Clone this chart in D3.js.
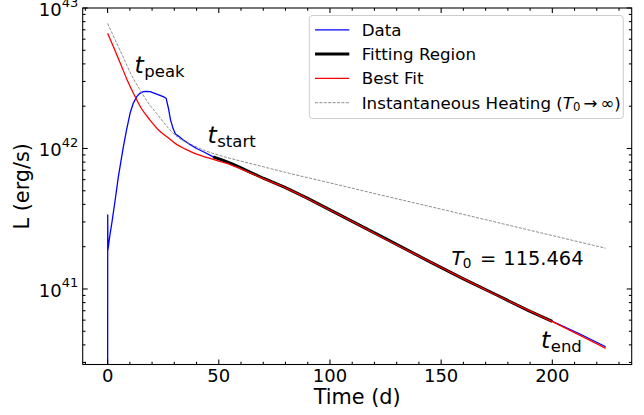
<!DOCTYPE html>
<html>
<head>
<meta charset="utf-8">
<script src="https://cdn.jsdelivr.net/npm/d3@7"></script>
<style>
  html, body { margin: 0; padding: 0; background: #fff; }
  svg { display: block; font-family: "DejaVu Sans", sans-serif; }
</style>
</head>
<body>
<svg id="chart" width="644" height="415"></svg>
<script>
// ---------------- DATA ----------------
// Observed light curve (days, erg/s)
const dataTime = [0, 0.05, 0.15, 1, 2, 3.4, 4.85, 6, 7.1, 8.5, 10.1, 11.5, 13.1, 14.5, 16.1, 17.5, 19.1, 22.1, 25, 26.3, 27.3, 28.3, 29.5, 30.5, 32, 34, 37, 40, 44,
  47.5, 52, 56, 60, 65, 70, 80, 90, 100, 110, 125, 145, 160, 175, 190, 200, 212, 224];
const dataLum = [1e39, 3.37e41, 1.90e41, 2.40e41, 3.02e41, 4.30e41, 6.31e41, 8.13e41, 1.03e42, 1.35e42, 1.78e42, 2.09e42, 2.34e42, 2.47e42, 2.54e42, 2.55e42, 2.54e42, 2.44e42, 2.34e42, 2.28e42, 1.95e42, 1.60e42, 1.38e42, 1.27e42, 1.22e42, 1.15e42, 1.07e42, 1.00e42, 9.33e41,
  8.71e41, 8.22e41, 7.76e41, 7.28e41, 6.68e41, 6.14e41, 5.27e41, 4.42e41, 3.66e41, 3.03e41, 2.28e41, 1.56e41, 1.18e41, 9.06e40, 6.92e40, 5.89e40, 4.82e40, 3.88e40];
// Fitting region limits (days)
const fitStart = 47.5;
const fitEnd = 200;

// Best fit
const fitTime = [0, 3, 6, 9, 12, 15, 19, 23, 27, 31, 35, 40, 45, 50, 56, 62, 70, 80, 90, 100, 110, 125, 145, 160, 175, 200, 224];
const fitLum = [6.61e42, 5.13e42, 3.94e42, 3.02e42, 2.40e42, 1.95e42, 1.60e42, 1.35e42, 1.20e42, 1.07e42, 9.89e41, 9.12e41, 8.61e41, 8.13e41, 7.59e41, 6.92e41, 6.10e41, 5.25e41, 4.39e41, 3.65e41, 3.02e41, 2.26e41, 1.56e41, 1.18e41, 9.02e40, 5.85e40, 3.78e40];

// Instantaneous heating (T0 -> infinity)
const instTime = [0, 3.5, 7, 10.5, 14.5, 18, 22, 26, 30, 34, 38, 44, 52, 60, 67, 80, 100, 125, 150, 175, 200, 224];
const instLum = [7.76e42, 5.89e42, 4.47e42, 3.39e42, 2.63e42, 2.14e42, 1.78e42, 1.48e42, 1.26e42, 1.135e42, 1.06e42, 9.64e41, 8.77e41, 8.13e41, 7.62e41, 6.76e41, 5.69e41, 4.58e41, 3.70e41, 2.98e41, 2.40e41, 1.95e41];

const xTickValues = [0, 50, 100, 150, 200];
const yTickValues = [1e41, 1e42, 1e43];
const yTickExponents = ["41", "42", "43"];
const legendLabels = ["Data", "Fitting Region", "Best Fit", "Instantaneous Heating"];
const T0value = "115.464";

// ---------------- LAYOUT ----------------
const L = 82.7, R = 631.7, T = 8, B = 364.5;
const svg = d3.select("#chart");

const x = d3.scaleLinear().domain([-11.2, 235.7]).range([L, R]);
const y = d3.scaleLog().domain([2.9e40, 1e43]).range([B, T]);

svg.append("defs").append("clipPath").attr("id", "clip")
  .append("rect").attr("x", L).attr("y", T).attr("width", R - L).attr("height", B - T);

const plot = svg.append("g").attr("clip-path", "url(#clip)");

const zip = (ts, ls) => ts.map((t, i) => [t, ls[i]]);
const lineLin = d3.line().x(d => x(d[0])).y(d => y(d[1]));
const lineSmooth = d3.line().x(d => x(d[0])).y(d => y(d[1])).curve(d3.curveMonotoneX);

const dataPts = zip(dataTime, dataLum);
const fitRegionPts = dataPts.filter(d => d[0] >= fitStart && d[0] <= fitEnd);

plot.append("path").attr("d", lineLin(dataPts))
  .attr("fill", "none").attr("stroke", "#0000ff").attr("stroke-width", 1.3).attr("stroke-linejoin", "round");
plot.append("path").attr("d", lineLin(fitRegionPts))
  .attr("fill", "none").attr("stroke", "#000").attr("stroke-width", 3).attr("stroke-linecap", "butt");
plot.append("path").attr("d", lineSmooth(zip(fitTime, fitLum)))
  .attr("fill", "none").attr("stroke", "#ff0000").attr("stroke-width", 1.3);
plot.append("path").attr("d", lineSmooth(zip(instTime, instLum)))
  .attr("fill", "none").attr("stroke", "#808080").attr("stroke-width", 0.9).attr("stroke-dasharray", "3,1.4");

// ---------------- AXES ----------------
const tickW = 1.07;
const xMinor = d3.range(-10, 236, 10).filter(v => v % 50 !== 0);
const yMinor = [];
[1e40, 1e41, 1e42].forEach(p => { for (let k = 2; k <= 9; k++) { const v = k * p; if (v >= 2.9e40 && v <= 1e43) yMinor.push(v); } });

function ticksX(vals, y0, len, dir) {
  svg.append("g").selectAll("line").data(vals).join("line")
    .attr("x1", d => x(d)).attr("x2", d => x(d))
    .attr("y1", y0).attr("y2", y0 + dir * len)
    .attr("stroke", "#000").attr("stroke-width", tickW);
}
function ticksY(vals, x0, len, dir) {
  svg.append("g").selectAll("line").data(vals).join("line")
    .attr("y1", d => y(d)).attr("y2", d => y(d))
    .attr("x1", x0).attr("x2", x0 + dir * len)
    .attr("stroke", "#000").attr("stroke-width", tickW);
}
ticksX(xTickValues, B, 5, -1);
ticksX(xMinor, B, 2.8, -1);
ticksX(xTickValues, T, 5, 1);
ticksX(xMinor, T, 2.8, 1);
ticksY(yTickValues, L, 5, 1);
ticksY(yMinor, L, 2.8, 1);
ticksY(yTickValues, R, 5, -1);
ticksY(yMinor, R, 2.8, -1);

// x tick labels
svg.append("g").selectAll("text").data(xTickValues).join("text")
  .attr("x", d => x(d)).attr("y", 381.5).attr("text-anchor", "middle")
  .attr("font-size", 18).attr("fill", "#000").text(d => d3.format("d")(d));

// y tick labels (10^n)
svg.append("g").selectAll("text").data(yTickValues).join("text")
  .attr("x", L - 4.5).attr("y", d => y(d) + 7.7).attr("text-anchor", "end")
  .attr("font-size", 18).attr("fill", "#000")
  .each(function(d, i) {
    const t = d3.select(this);
    t.append("tspan").text("10");
    t.append("tspan").attr("font-size", 13).attr("dy", -9.2).text(yTickExponents[i]);
  });

// frame
svg.append("rect").attr("x", L).attr("y", T).attr("width", R - L).attr("height", B - T)
  .attr("fill", "none").attr("stroke", "#000").attr("stroke-width", 1.07);

// axis labels
svg.append("text").attr("x", (L + R) / 2).attr("y", 404).attr("text-anchor", "middle")
  .attr("font-size", 20.8).text("Time (d)");
svg.append("text").attr("transform", `translate(29,${(T + B) / 2}) rotate(-90)`).attr("text-anchor", "middle")
  .attr("font-size", 20.8).text("L (erg/s)");

// ---------------- ANNOTATIONS ----------------
function tLabel(px, py, sub) {
  const t = svg.append("text").attr("x", px).attr("y", py).attr("font-size", 23.6);
  t.append("tspan").attr("font-style", "italic").text("t");
  t.append("tspan").attr("font-size", 16.5).attr("dy", 3.5).attr("dx", 0.5).text(sub);
}
tLabel(134.5, 73, "peak");
tLabel(207.5, 143.3, "start");
tLabel(541, 348, "end");

const t0 = svg.append("text").attr("y", 265).attr("font-size", 19.4);
t0.append("tspan").attr("x", 451.5).attr("font-style", "italic").text("T");
t0.append("tspan").attr("font-size", 13.6).attr("dy", 2.9).attr("dx", -0.5).text("0");
t0.append("tspan").attr("x", 480).attr("dy", -2.9).text("=");
t0.append("tspan").attr("x", 503.3).text(T0value);

// ---------------- LEGEND ----------------
const leg = svg.append("g");
leg.append("rect").attr("x", 309.3).attr("y", 15.5).attr("width", 314).attr("height", 103).attr("rx", 3)
  .attr("fill", "#fff").attr("fill-opacity", 0.8).attr("stroke", "#cccccc").attr("stroke-width", 1);
const legStyles = [
  { c: "#0000ff", w: 1.3, dash: null },
  { c: "#000", w: 3, dash: null },
  { c: "#ff0000", w: 1.3, dash: null },
  { c: "#808080", w: 0.9, dash: "3,1.4" }
];
legendLabels.forEach((lab, i) => {
  const cy = 29.8 + i * 24.3;
  const s = legStyles[i];
  const ln = leg.append("line").attr("x1", 315).attr("x2", 349.3).attr("y1", cy).attr("y2", cy)
    .attr("stroke", s.c).attr("stroke-width", s.w);
  if (s.dash) ln.attr("stroke-dasharray", s.dash);
  const tx = leg.append("text").attr("x", 361.7).attr("y", cy + 5.8).attr("font-size", 16.7);
  tx.append("tspan").text(lab);
  if (i === 3) {
    tx.append("tspan").text(" (");
    tx.append("tspan").attr("font-style", "italic").text("T");
    tx.append("tspan").attr("font-size", 11.7).attr("dy", 2.5).text("0");
    tx.append("tspan").attr("dy", -2.5).attr("dx", 3).text("\u2192");
    tx.append("tspan").attr("dx", 3).text("\u221E)");
  }
});
</script>
</body>
</html>
